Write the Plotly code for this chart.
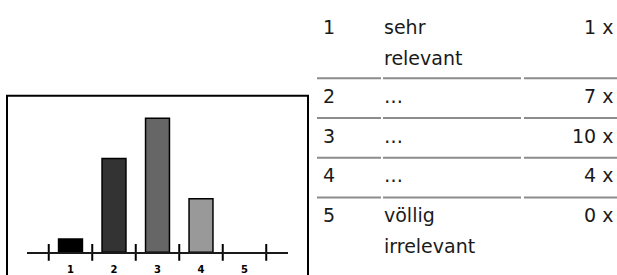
import plotly.graph_objects as go

# ---- data ----
categories = [1, 2, 3, 4, 5]
counts = [1, 7, 10, 4, 0]
bar_colors = ["#000000", "#333333", "#666666", "#999999", "#cccccc"]
tick_labels = ["1", "2", "3", "4", "5"]
row_labels = ["1", "2", "3", "4", "5"]
row_texts = ["sehr<br>relevant", "…", "…", "…", "völlig<br>irrelevant"]
row_counts = [f"{c} x" for c in counts]

W, H = 617, 275
def X(px):
    return px / W
def Y(py):
    return 1 - py / H

fig = go.Figure()

fig.add_trace(go.Bar(
    x=categories, y=counts,
    marker=dict(color=bar_colors,
                line=dict(color="#000000", width=[1.5 if c > 0 else 0 for c in counts])),
    width=0.55, showlegend=False, hoverinfo="skip",
))

bounds = [c - 0.5 for c in categories] + [categories[-1] + 0.5]
fig.add_trace(go.Scatter(
    x=bounds, y=[0] * len(bounds), mode="markers",
    marker=dict(symbol="line-ns", size=12, line=dict(color="#000000", width=2)),
    cliponaxis=False, showlegend=False, hoverinfo="skip",
))

px_per_unit = 13.7
fig.update_layout(
    width=W, height=H,
    margin=dict(l=0, r=0, t=0, b=0),
    paper_bgcolor="white", plot_bgcolor="white",
    xaxis=dict(
        domain=[X(27), X(288)], range=[0, 6],
        showline=True, linecolor="#1a1a1a", linewidth=2,
        tickvals=categories, ticktext=tick_labels,
        ticks="outside", ticklen=7, tickcolor="rgba(0,0,0,0)",
        tickfont=dict(family="DejaVu Sans", size=10, color="#000000", weight="bold"),
        showgrid=False, zeroline=False, fixedrange=True,
    ),
    yaxis=dict(
        domain=[Y(258), Y(98)], range=[0, (258 - 98) / px_per_unit],
        visible=False, fixedrange=True,
    ),
    bargap=0,
)

# frame around chart
fig.add_shape(type="rect", xref="paper", yref="paper",
              x0=X(7), x1=X(308), y0=Y(290), y1=Y(98),
              line=dict(color="#000000", width=2), layer="above")

# table
seps = [80, 120.7, 161.3, 202]
segments = [(317, 381), (383, 521), (524, 617)]
for s in seps:
    for a, b in segments:
        fig.add_shape(type="line", xref="paper", yref="paper",
                      x0=X(a), x1=X(b), y0=Y(s), y1=Y(s),
                      line=dict(color="#8c8c8c", width=2))

row_tops = [10] + seps
font = dict(family="DejaVu Sans", size=19, color="#1a1a1a")
for i, top in enumerate(row_tops):
    yc = top + 18
    fig.add_annotation(x=X(321), y=Y(yc), xref="paper", yref="paper",
                       text=row_labels[i], showarrow=False,
                       xanchor="left", yanchor="middle", font=font)
    for j, line in enumerate(row_texts[i].split("<br>")):
        fig.add_annotation(x=X(382), y=Y(yc + 31 * j), xref="paper", yref="paper",
                           text=line, showarrow=False,
                           xanchor="left", yanchor="middle", font=font)
    fig.add_annotation(x=X(615), y=Y(yc), xref="paper", yref="paper",
                       text=row_counts[i], showarrow=False,
                       xanchor="right", yanchor="middle", font=font)

fig.write_html("out.html",
               config={"displayModeBar": False, "staticPlot": True},
               post_script="document.body.style.margin='0';document.body.style.overflow='hidden';")
